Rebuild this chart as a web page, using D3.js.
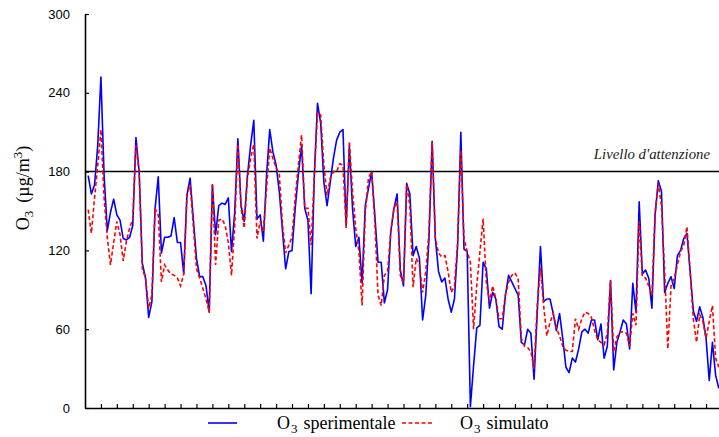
<!DOCTYPE html>
<html><head><meta charset="utf-8">
<script src="https://cdn.jsdelivr.net/npm/d3@7/dist/d3.min.js"></script>
<style>body{margin:0;background:#fff}svg{display:block}</style>
</head><body>
<svg id="c" width="719" height="437"></svg>
<script>
// O3 measured (blue, solid) and simulated (red, dashed), daily values, µg/m3
const sperimentale = [
177,163,170,200,252,177,135,149,159,147,143,129,128,130,139,206,180,110,99,69,
81,152,176,118,130,130,131,145,126,126,102,162,175,144,114,100,100,93,73,170,
132,154,156,155,160,119,149,205,154,142,177,200,219,144,147,127,177,212,195,185,
165,135,106,119,120,152,178,200,152,143,87,177,232,217,172,154,172,190,204,210,
212,139,199,152,123,130,95,154,167,180,147,111,111,80,90,134,152,163,105,93,
171,163,116,123,114,67,86,129,203,129,104,96,99,83,73,83,124,210,121,119,
1,32,61,63,111,106,76,88,83,62,60,86,101,96,91,86,50,48,60,57,
22,73,123,81,83,83,72,59,72,53,31,27,38,35,45,58,60,57,67,67,
52,64,38,47,97,29,50,58,67,64,45,95,73,157,102,105,99,76,147,173,
165,88,95,100,91,116,120,129,133,104,74,66,77,69,53,21,50,25,15];
const simulato = [
151,133,160,185,212,160,130,109,126,142,132,112,127,137,144,200,180,106,99,76,
86,152,147,96,109,105,102,101,99,93,102,161,170,139,106,99,91,83,73,171,
109,143,144,139,126,101,139,201,152,137,175,190,201,129,142,134,167,198,190,183,
178,140,118,124,130,160,185,208,152,152,124,177,225,223,185,162,175,180,180,186,
185,137,203,165,137,119,78,149,175,180,142,86,78,101,104,134,152,157,101,95,
170,154,92,114,109,88,104,134,203,129,118,115,116,104,88,93,126,196,129,119,
111,60,93,119,144,96,81,93,83,68,68,86,96,101,103,98,53,47,46,43,
30,78,107,78,55,65,72,61,55,47,44,43,43,68,60,68,73,72,69,59,
52,50,48,57,97,43,54,58,58,57,47,72,63,142,100,99,93,86,149,171,
154,104,45,93,99,109,119,124,138,104,68,50,71,66,53,66,78,38,31];
const days = sperimentale.map((_, i) => i + 1);
const yTicks = [0, 60, 120, 180, 240, 300];
const xTicks = d3.range(5, 200, 5);
const soglia = 180;
const sogliaLabel = "Livello d'attenzione";
const legendLabels = ["sperimentale", "simulato"];

const svg = d3.select('#c');
const x = d3.scaleLinear().domain([0, 199]).range([85, 718.8]);
const y = d3.scaleLinear().domain([0, 300]).range([408, 14]);
const serif = 'Liberation Serif, Times New Roman, serif';

// axes
const yAxis = svg.append('g').attr('transform', 'translate(85,0)')
  .call(d3.axisLeft(y).tickValues(yTicks).tickSizeInner(-4).tickSizeOuter(0).tickPadding(15));
yAxis.select('.domain').attr('stroke', '#000').attr('stroke-width', 1.6);
yAxis.selectAll('.tick line').attr('stroke', '#000').attr('stroke-width', 1.2);
yAxis.selectAll('.tick text').attr('font-family', 'Liberation Sans, Arial, sans-serif')
  .attr('font-size', 13).attr('fill', '#000');

const xAxis = svg.append('g').attr('transform', 'translate(0,408)')
  .call(d3.axisBottom(x).tickValues(xTicks).tickSizeInner(-4).tickSizeOuter(0).tickFormat(''));
xAxis.select('.domain').attr('stroke', '#000').attr('stroke-width', 1.6);
xAxis.selectAll('.tick line').attr('stroke', '#000').attr('stroke-width', 1.2);

// threshold
svg.append('line').attr('x1', x(0)).attr('x2', 719)
  .attr('y1', y(soglia)).attr('y2', y(soglia)).attr('stroke', '#000').attr('stroke-width', 1.5);
svg.append('text').attr('x', 710).attr('y', y(soglia) - 13).attr('text-anchor', 'end')
  .attr('font-family', serif).attr('font-style', 'italic')
  .attr('font-size', 14.8).attr('fill', '#222').text(sogliaLabel);

// series
const line = d3.line().x((d, i) => x(days[i])).y(d => y(d));
svg.append('path').datum(sperimentale).attr('d', line).attr('fill', 'none')
  .attr('stroke', '#0000ff').attr('stroke-width', 1.6).attr('stroke-linejoin', 'round');
svg.append('path').datum(simulato).attr('d', line).attr('fill', 'none')
  .attr('stroke', '#ff0000').attr('stroke-width', 1.6).attr('stroke-dasharray', '4,2.5');

// y label
const yl = svg.append('text').attr('transform', 'translate(29,188) rotate(-90)')
  .attr('text-anchor', 'middle').attr('font-family', serif)
  .attr('font-size', 18).attr('fill', '#000');
yl.append('tspan').text('O');
yl.append('tspan').attr('font-size', 13).attr('dy', 4).text('3');
yl.append('tspan').attr('dy', -4).attr('dx', 8).text('(µg/m');
yl.append('tspan').attr('font-size', 13).attr('dy', -7).text('3');
yl.append('tspan').attr('dy', 7).text(')');

// legend
const lg = svg.append('g');
const items = [
  {x1: 208, x2: 237, tx: 277, color: '#0000ff', dash: null, label: legendLabels[0]},
  {x1: 402, x2: 432, tx: 460, color: '#ff0000', dash: '4,2.5', label: legendLabels[1]}
];
items.forEach(it => {
  lg.append('line').attr('x1', it.x1).attr('x2', it.x2).attr('y1', 423).attr('y2', 423)
    .attr('stroke', it.color).attr('stroke-width', 1.6).attr('stroke-dasharray', it.dash);
  const t = lg.append('text').attr('x', it.tx).attr('y', 428.5)
    .attr('font-family', serif).attr('font-size', 18).attr('fill', '#000');
  t.append('tspan').text('O');
  t.append('tspan').attr('font-size', 13).attr('dy', 4).attr('dx', 1).text('3');
  t.append('tspan').attr('dy', -4).attr('dx', 6).text(it.label);
});
</script>
</body></html>
